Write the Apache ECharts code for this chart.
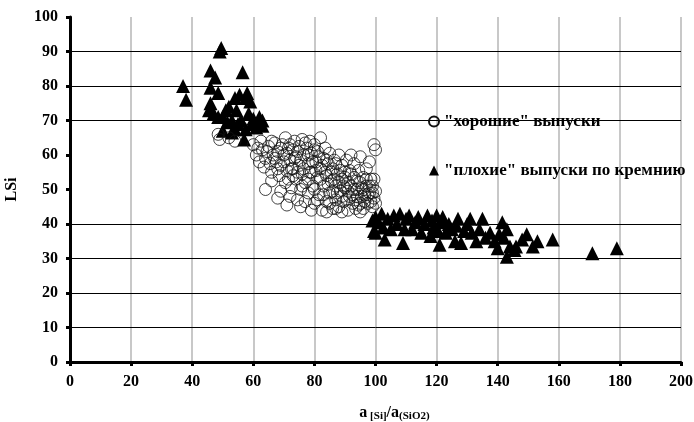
<!DOCTYPE html>
<html>
<head>
<meta charset="utf-8">
<script src="https://cdn.jsdelivr.net/npm/echarts@6/dist/echarts.min.js"></script>
<style>
html,body{margin:0;padding:0;background:#fff;}
#chart{width:694px;height:422px;}
</style>
</head>
<body>
<div id="chart"></div>
<script>
// "хорошие" выпуски: [a[Si]/a(SiO2), LSi]
const goodPoints = [
[48.5,66],[49,64.5],[52,65],[54,64],
[60,63],[61,60],[62,58],[63,61.5],[63.5,56.5],[64,59],[65,62.5],[65.5,57.5],[66,55],[66.5,60],[67,63.5],[67.5,58],[68,61],[68.5,54],[69,49.5],[69,57],[69.5,63],[70,60],[70.5,52],[70.5,65],[71,55.5],[71.5,62],[72,58.5],[72,48],[72.5,50.5],[73,61.5],[73,56],[73.5,64],[74,53],[74,59.5],[74.5,47],[75,62.5],[75,57],[75.5,50],[76,64.5],[76,54.5],[76.5,60],[77,46.5],[77,52],[77.5,62],[78,57.5],[78,49],[78.5,64],[79,55],[79,60.5],[79.5,51],[80,63],[80,46],[80.5,58],[81,53.5],[81,61],[81.5,48.5],[82,56],[82,65],[82.5,44],[83,59],[83,51],[83.5,62],[84,54],[84,46.5],[84.5,57.5],[85,49],[85,60.5],[85.5,52.5],[86,44.5],[86,56],[86.5,58.5],[87,47],[87,51],[87.5,54.5],[88,60],[88,45],[88.5,49.5],[89,57],[89,53],[89.5,46.5],[90,55],[90,50.5],[90.5,58.5],[91,44],[91,52],[91.5,48],[92,60],[92,54.5],[92.5,46],[93,50],[93,57.5],[93.5,44.5],[94,52.5],[94,48],[94.5,55.5],[95,59.5],[95,46],[95.5,50.5],[96,53.5],[96,44.5],[96.5,48.5],[97,56],[97,51],[97.5,46],[98,58],[98,49],[98.5,53],[99,45],[99,51],[99.5,47.5],[99.5,63],[100,61.5],[100,49.5],[100,46],[99.5,53],
[64,50],[66,52.5],[68,47.5],[71,45.5],[75.5,45],[79,44],[84,43.5],[89,43.5],[95,43.5],
[61.5,62],[62.5,64],[64.5,61],[66,64],[67,59],[68,56],[69,62],[70,58],[71,60.5],[72,63],[72.5,56],[73.5,59],[74.5,61],[75.5,58.5],[76.5,56],[77,63.5],[78,60],[78.5,55],[79.5,58],[80,61.5],[80.5,55.5],[81.5,59.5],[82,53],[82.5,57],[83.5,55],[84,58.5],[84.5,51.5],[85.5,55],[86,49.5],[86.5,53],[87,57.5],[87.5,49],[88,52],[88.5,55.5],[89,48],[89.5,51],[90,53.5],[90.5,47],[91,49.5],[91.5,55.5],[92,51],[92.5,48.5],[93,53.5],[93.5,47],[94,50],[94.5,45.5],[95,52],[95.5,48],[96,50],[96.5,46.5],[97,53],[97.5,48.5],[98,51],[98.5,46.5],[99,49],[76,51],[78,53],[80,50],[81,47],[83,48.5],[85,46],[87,44.5],[73,54],[71.5,53],[74.5,55]
];
// "плохие" выпуски по кремнию
const badPoints = [
[37,80],[38,76],[45.5,73],[46,75],[46,79.5],[46,84.5],[47,72],[47.5,82.5],[48.5,78],[49,90],[49.5,91],[50,71],[50,67],[51.5,69.5],[53,70],[53,66.5],[54,76.5],[54.5,73],[55,69],[55.5,77.5],[56,70],[56.5,84],[57,64.5],[57.5,76.5],[57.5,67.5],[58.5,72],[59,75.5],[59.5,69],[60,70.5],[61,68],[62,71],[63,70],[63,68.5],[58,78],[51,73],[54,67.5],[48.5,71],[52,74],
[99,41],[99.5,38],[100,42],[100,37.5],[101,40.5],[102,43],[102.5,39],[103,35.5],[104,41.5],[105,38.5],[106,42.5],[107,40],[108,43],[109,34.5],[109.5,38.5],[110,41.5],[111,42.5],[112,38.5],[113,40.5],[114,42],[115,37.5],[116,40],[117,42.5],[118,36.5],[118.5,41],[119,39],[120,42.5],[120.5,38],[121,34],[121.5,40.5],[122,42],[123,37.5],[124,40],[125,38.5],[126,35],[126.5,39.5],[127,41.5],[128,34.5],[129,38],[130,40],[131,41.5],[131.5,37.5],[133,35],[134,38.5],[135,41.5],[136,36],[137.5,37.5],[139,35],[140,33],[140.5,37],[141.5,40.5],[142,36],[143,30.5],[143,38.5],[144,33.5],[145.5,32.5],[146,33.5],[148,35.5],[149.5,37],[151.5,33.5],[153,35],[158,35.5],[171,31.5],[179,33]
];
const gridLevels = [10,20,30,40,70,80,90];
const seriesNames = ['"хорошие" выпуски', '"плохие" выпуски по кремнию'];

const font = '"Liberation Serif", "DejaVu Serif", serif';
const chart = echarts.init(document.getElementById('chart'));
chart.setOption({
  animation: false,
  backgroundColor: '#fff',
  grid: {left: 70, right: 13, top: 17, bottom: 60, containLabel: false, outerBoundsMode: 'none'},
  legend: {
    orient: 'vertical', left: 423, top: 108, itemGap: 32,
    itemWidth: 10, itemHeight: 10,
    textStyle: {fontFamily: font, fontWeight: 'bold', fontSize: 17, color: '#000'},
    data: seriesNames
  },
  xAxis: {
    type: 'value', min: 0, max: 200, interval: 20,
    axisLine: {show: true, lineStyle: {color: '#000', width: 3}},
    axisTick: {show: true, length: 4, lineStyle: {color: '#000', width: 3}},
    axisLabel: {fontFamily: font, fontWeight: 'bold', fontSize: 16, color: '#000', margin: 12},
    splitLine: {show: true, lineStyle: {color: '#c8c8c8', width: 2}},
    name: '{a|a}{s| [Si]}{a|/a}{s|(SiO2)}',
    nameLocation: 'middle', nameGap: 41,
    nameTextStyle: {
      padding: [0, 0, 0, 38],
      rich: {
        a: {fontFamily: font, fontWeight: 'bold', fontSize: 16, color: '#000'},
        s: {fontFamily: font, fontWeight: 'bold', fontSize: 11, color: '#000', padding: [8, 0, 0, 0]}
      }
    }
  },
  yAxis: {
    type: 'value', min: 0, max: 100, interval: 10,
    axisLine: {show: true, lineStyle: {color: '#000', width: 3}},
    axisTick: {show: true, length: 4, lineStyle: {color: '#000', width: 3}},
    axisLabel: {fontFamily: font, fontWeight: 'bold', fontSize: 16, color: '#000', margin: 12},
    splitLine: {show: false},
    name: 'LSi', nameLocation: 'middle', nameGap: 50, nameRotate: 90,
    nameTextStyle: {fontFamily: font, fontWeight: 'bold', fontSize: 16, color: '#000'}
  },
  series: [
    {
      name: seriesNames[1], type: 'scatter', data: badPoints,
      symbol: 'triangle', symbolSize: 14,
      itemStyle: {color: '#000', opacity: 1}, z: 3,
      markLine: {
        silent: true, symbol: 'none', label: {show: false},
        lineStyle: {color: '#000', width: 1, type: 'solid', opacity: 1},
        data: gridLevels.map(v => ({yAxis: v})),
        z: 1
      }
    },
    {
      name: seriesNames[0], type: 'scatter', data: goodPoints,
      symbol: 'circle', symbolSize: 12,
      itemStyle: {color: 'rgba(0,0,0,0)', borderColor: '#111', borderWidth: 0.8, opacity: 1}, z: 4
    }
  ]
});
</script>
</body>
</html>
